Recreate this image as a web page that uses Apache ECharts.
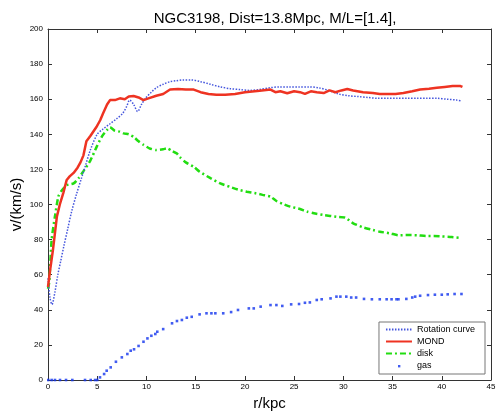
<!DOCTYPE html>
<html>
<head>
<meta charset="utf-8">
<script src="https://cdn.jsdelivr.net/npm/echarts@6/dist/echarts.min.js"></script>
<style>
  html, body { margin: 0; padding: 0; background: #fff; }
  #chart { width: 496px; height: 414px; }
</style>
</head>
<body>
<div id="chart"></div>
<script>
// rotation curve (observed)
let rotR = [0, 0.2, 0.4, 0.7, 1.0, 1.3, 1.6, 2.0, 2.4, 2.9, 3.4, 3.8, 4.3, 5.0, 5.6, 6.3, 7.0, 7.6, 8.0, 8.3, 8.7, 9.1, 9.5, 9.9, 10.5, 11.0, 11.7, 12.4, 13.0, 13.7, 14.5, 15.5, 16.5, 17.5, 18.5, 19.5, 20.5, 21.5, 22.5, 23.5, 24.5, 25.5, 26.5, 27.5, 28.5, 29.5, 30.5, 31.5, 32.5, 33.5, 34.5, 35.5, 36.5, 37.5, 38.5, 39.5, 40.5, 41.5, 42];
let rotV = [58, 47, 43, 50, 60, 68, 76, 86, 96, 106, 115, 122, 131, 140, 143, 146, 149, 152, 156, 159.5, 157, 153, 157, 160.5, 164, 166.5, 168.5, 170, 170.5, 171, 171, 170, 168.5, 167, 166, 165.5, 165, 165.5, 166.5, 167, 167, 167, 167, 166.5, 165, 163, 162, 161.5, 161, 160.5, 160.5, 160.5, 160.5, 160.5, 160.5, 160.5, 160, 159.5, 159];

// MOND fit
let mondR = [0, 0.2, 0.5, 0.9, 1.2, 1.55, 1.9, 2.2, 2.6, 3.0, 3.3, 3.6, 3.9, 4.3, 4.9, 5.3, 5.6, 6.0, 6.3, 6.8, 7.3, 7.8, 8.2, 8.7, 9.2, 9.7, 10.2, 11.0, 11.7, 12.4, 13.2, 14.0, 14.8, 15.5, 16.3, 17.1, 18.0, 19.0, 20.0, 20.5, 21.5, 22.6, 23.1, 23.6, 24.3, 25.0, 25.6, 26.1, 26.7, 27.3, 28.0, 28.6, 29.2, 29.8, 30.4, 31.0, 32.0, 33.0, 33.7, 34.5, 35.3, 36.1, 37.0, 37.8, 38.7, 39.5, 40.3, 41.1, 41.9, 42.1];
let mondV = [53, 62, 74, 93, 100, 106.5, 114, 116, 118, 121, 124, 128, 136, 139, 144, 148, 152, 157, 159.5, 159.5, 160.5, 160, 161.5, 161.8, 161, 159.5, 160.5, 162, 163, 165.5, 165.8, 165.5, 165.5, 164, 163, 162.5, 162.5, 163, 164, 164.3, 164.8, 165.5, 164, 164.5, 163.4, 164.5, 164, 163, 164.5, 164, 163.5, 165, 164, 165, 165.8, 165, 164, 163.5, 163, 163, 163, 163.5, 164.5, 165.5, 166, 166.5, 167, 167.5, 167.5, 167];

// stellar disk
let diskR = [0, 0.13, 0.37, 0.7, 1.05, 1.4, 1.9, 2.6, 3.1, 3.6, 4.3, 4.95, 5.5, 6.0, 6.3, 6.8, 7.3, 7.7, 8.2, 8.7, 9.2, 9.7, 10.3, 11.0, 11.7, 12.1, 12.6, 13.1, 13.4, 14.0, 14.8, 15.4, 16.5, 17.5, 18.5, 19.3, 20.2, 21.0, 21.8, 22.6, 23.2, 24.0, 24.6, 25.6, 26.3, 27.0, 28.0, 29.3, 30.2, 31.0, 32.0, 33.0, 33.7, 34.8, 35.6, 36.5, 37.5, 38.4, 39.2, 40.0, 41.0, 41.9];
let diskV = [52, 56, 80, 93, 104.5, 108, 111, 112, 115, 119, 125, 133, 139, 142.5, 144, 142, 141.5, 140.5, 140, 138.5, 136, 134, 132, 131, 131.5, 132, 130.5, 129, 127, 124, 121.5, 118.7, 115, 112, 110, 108.5, 107.3, 106.5, 105.5, 104.5, 102, 100, 98.8, 97.4, 96, 95, 94, 93, 92.5, 89.3, 87, 85.5, 84.5, 83.5, 82.5, 82.6, 82.5, 82, 82, 81.8, 81.5, 81];

// gas
let gasR = [0.03, 0.37, 0.71, 1.22, 1.83, 2.47, 3.76, 4.34, 4.78, 5.0, 5.28, 5.7, 5.96, 6.37, 6.9, 7.5, 8.06, 8.4, 8.74, 9.2, 9.7, 10.1, 10.5, 10.9, 11.1, 11.7, 12.6, 13.1, 13.6, 14.1, 14.6, 15.4, 16.1, 16.6, 17.0, 17.8, 18.6, 19.3, 20.4, 20.9, 21.6, 22.6, 23.2, 23.8, 24.7, 25.5, 26.1, 26.6, 27.3, 27.8, 28.7, 29.3, 29.7, 30.3, 30.8, 31.3, 32.1, 32.9, 33.7, 34.4, 34.9, 35.4, 35.6, 36.4, 37.0, 37.3, 37.8, 38.6, 39.3, 40.0, 40.6, 41.3, 42.0];
let gasV = [0, 0, 0, 0, 0, 0, 0, 0, 0, 0, 1.5, 3.4, 5.3, 7.2, 10.4, 12.9, 14.8, 16.7, 17.5, 19.4, 21.8, 23.7, 25.2, 26.2, 27.5, 29, 32.3, 33.6, 34.2, 35.5, 36, 37.4, 38, 38, 38, 38, 38.7, 39.9, 40.8, 40.8, 41.8, 42.7, 42.7, 42.2, 43.1, 43.3, 44, 44.2, 45.6, 46, 46.5, 47.5, 47.5, 47.5, 47, 47, 46.2, 46, 46, 46, 46, 46, 46, 46.2, 47, 47.5, 48, 48.4, 48.6, 48.6, 48.8, 49, 49];

let title = "NGC3198, Dist=13.8Mpc, M/L=[1.4],";

function pairs(xs, ys) {
  return xs.map((x, i) => [x, ys[i]]);
}

let font = "Liberation Sans, Arial, sans-serif";
let axisColor = "#333";
// hide the round marker ECharts puts on line legend icons
let noMark = { opacity: 0 };

let Option = {
  backgroundColor: "#fff",
  animation: false,
  title: {
    text: title,
    left: 270,
    textAlign: "center",
    top: 6,
    textStyle: { fontFamily: font, fontSize: 15, fontWeight: "normal", color: "#000" }
  },
  grid: { left: 48, right: 5, top: 29, bottom: 34, outerBoundsMode: "none" },
  legend: {
    orient: "vertical",
    right: 11,
    bottom: 40,
    backgroundColor: "#fff",
    borderColor: "#777",
    borderWidth: 1,
    borderRadius: 0,
    padding: [3, 10, 3, 6],
    itemGap: 3,
    itemWidth: 26,
    itemHeight: 10,
    textStyle: { fontFamily: font, fontSize: 9, color: "#000" },
    data: [
      { name: "Rotation curve", itemStyle: noMark },
      { name: "MOND", itemStyle: noMark },
      { name: "disk", itemStyle: noMark },
      { name: "gas", icon: "path://M0,0M26,10M12,4h2.4v2.4h-2.4z" }
    ]
  },
  xAxis: [
    {
      type: "value", min: 0, max: 45, interval: 5,
      name: "r/kpc", nameLocation: "middle", nameGap: 15,
      nameTextStyle: { fontFamily: font, fontSize: 15, color: "#000" },
      axisLine: { lineStyle: { color: axisColor } },
      axisTick: { inside: true, length: 4, lineStyle: { color: axisColor } },
      axisLabel: { fontFamily: font, fontSize: 8, color: "#000", margin: 3 },
      splitLine: { show: false }
    },
    {
      type: "value", min: 0, max: 45, interval: 5, position: "top",
      axisLine: { show: true, onZero: false, lineStyle: { color: axisColor } },
      axisTick: { inside: true, length: 4, lineStyle: { color: axisColor } },
      axisLabel: { show: false },
      splitLine: { show: false }
    }
  ],
  yAxis: [
    {
      type: "value", min: 0, max: 200, interval: 20,
      name: "v/(km/s)", nameLocation: "middle", nameGap: 24, nameMoveOverlap: false,
      nameTextStyle: { fontFamily: font, fontSize: 15, color: "#000" },
      axisLine: { show: true, lineStyle: { color: axisColor } },
      axisTick: { show: true, inside: true, length: 4, lineStyle: { color: axisColor } },
      axisLabel: { fontFamily: font, fontSize: 8, color: "#000", margin: 5 },
      splitLine: { show: false }
    },
    {
      type: "value", min: 0, max: 200, interval: 20, position: "right",
      axisLine: { show: true, onZero: false, lineStyle: { color: axisColor } },
      axisTick: { show: true, inside: true, length: 4, lineStyle: { color: axisColor } },
      axisLabel: { show: false },
      splitLine: { show: false }
    }
  ],
  series: [
    {
      name: "Rotation curve",
      type: "line",
      data: pairs(rotR, rotV),
      symbol: "none",
      smooth: 0.3,
      lineStyle: { color: "#4455dd", width: 1.5, type: [1.5, 1.5] },
      itemStyle: { color: "#4455dd" },
      z: 3
    },
    {
      name: "MOND",
      type: "line",
      data: pairs(mondR, mondV),
      symbol: "none",
      lineStyle: { color: "#ee3322", width: 2.5 },
      itemStyle: { color: "#ee3322" },
      z: 4
    },
    {
      name: "disk",
      type: "line",
      data: pairs(diskR, diskV),
      symbol: "none",
      smooth: 0.2,
      lineStyle: { color: "#22dd11", width: 2.5, type: [6, 3, 2, 3] },
      itemStyle: { color: "#22dd11" },
      z: 2
    },
    {
      name: "gas",
      type: "scatter",
      data: pairs(gasR, gasV),
      symbol: "rect",
      symbolSize: 2.6,
      itemStyle: { color: "#1133ee" },
      z: 2
    }
  ]
};

let chart = echarts.init(document.getElementById("chart"), null, { renderer: "canvas" });
chart.setOption(Option);
</script>
</body>
</html>
